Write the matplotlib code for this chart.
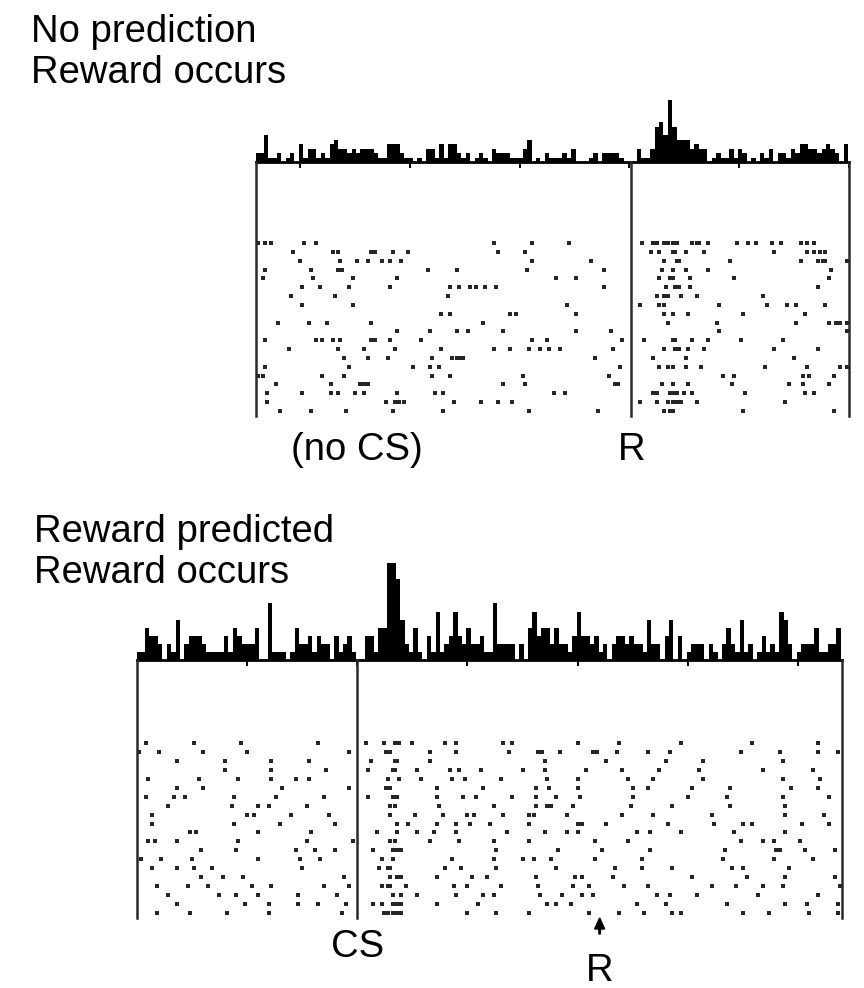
import numpy as np
import matplotlib
matplotlib.use("Agg")
import matplotlib.pyplot as plt

plt.rcParams['font.family'] = ['Liberation Sans', 'DejaVu Sans']

W, H = 864, 988

# spike times (s) per trial, aligned on reward, no conditioned stimulus
nocs_trials = [
    [-1.69, -1.66, -1.63, -1.48, -1.43, -0.62, -0.45, -0.28, 0.05, 0.10, 0.12, 0.15, 0.17, 0.19, 0.21, 0.28, 0.30, 0.31, 0.35, 0.48, 0.53, 0.57, 0.64, 0.68, 0.77, 0.80, 0.83],
    [-1.53, -1.35, -1.33, -1.18, -1.16, -1.08, -1.01, -0.60, -0.48, 0.09, 0.13, 0.19, 0.20, 0.25, 0.33, 0.65, 0.80, 0.83, 0.86, 0.88],
    [-1.50, -1.32, -1.24, -1.19, -1.13, -1.09, -1.04, -0.45, -0.18, 0.15, 0.21, 0.22, 0.45, 0.77, 0.85, 0.87, 0.88, 0.98],
    [-1.66, -1.45, -1.33, -1.31, -0.92, -0.79, -0.47, -0.12, 0.14, 0.19, 0.25, 0.35, 0.91],
    [-1.67, -1.44, -1.26, -1.06, -0.34, -0.25, 0.13, 0.18, 0.19, 0.27, 0.47, 0.90],
    [-1.49, -1.41, -1.28, -1.09, -0.82, -0.78, -0.73, -0.70, -0.66, -0.61, -0.12, 0.16, 0.20, 0.22, 0.27, 0.85],
    [-1.54, -1.34, -0.83, 0.12, 0.15, 0.17, 0.23, 0.30, 0.60],
    [-1.49, -1.26, -0.29, 0.04, 0.13, 0.15, 0.40, 0.62, 0.71, 0.75, 0.88],
    [-0.86, -0.82, -0.55, -0.52, -0.25, 0.15, 0.19, 0.26, 0.51, 0.79],
    [-1.60, -1.46, -1.38, -1.18, -0.67, 0.17, 0.39, 0.75, 0.90, 0.93, 0.95, 0.98],
    [-1.06, -0.91, -0.79, -0.74, -0.58, -0.25, -0.09, 0.40, 0.98],
    [-1.66, -1.43, -1.40, -1.35, -1.32, -1.18, -1.16, -1.09, -0.95, -0.45, -0.38, -0.04, 0.06, 0.19, 0.20, 0.28, 0.35, 0.50, 0.69],
    [-1.55, -1.33, -1.21, -1.07, -0.86, -0.62, -0.55, -0.46, -0.41, -0.37, -0.32, -0.08, 0.15, 0.20, 0.22, 0.26, 0.33, 0.65, 0.85],
    [-1.30, -1.19, -1.10, -0.90, -0.81, -0.79, -0.78, -0.76, -0.16, 0.10, 0.25, 0.74],
    [-1.66, -1.28, -0.99, -0.91, -0.87, -0.05, 0.13, 0.17, 0.19, 0.25, 0.32, 0.61, 0.80, 0.95, 0.98],
    [-1.69, -1.67, -1.40, -1.30, -0.90, -0.82, -0.49, -0.10, 0.42, 0.47, 0.78, 0.81, 0.92],
    [-1.61, -1.36, -1.23, -1.21, -1.19, -0.58, -0.48, -0.07, -0.06, 0.14, 0.19, 0.26, 0.46, 0.72, 0.78, 0.90],
    [-1.65, -1.49, -1.36, -1.33, -1.25, -1.21, -1.06, -0.89, -0.85, -0.35, -0.30, 0.10, 0.12, 0.18, 0.19, 0.21, 0.24, 0.28, 0.52, 0.79, 0.83],
    [-1.65, -1.11, -1.07, -1.05, -1.03, -0.80, -0.68, -0.60, -0.54, 0.04, 0.12, 0.17, 0.19, 0.21, 0.23, 0.30, 0.70],
    [-1.59, -1.45, -1.29, -1.08, -0.85, -0.46, -0.15, 0.15, 0.18, 0.19, 0.51, 0.92],
]

# spike times (s) per trial, aligned on CS, reward follows
cs_trials = [
    [-0.96, -0.74, -0.53, -0.18, 0.04, 0.12, 0.17, 0.19, 0.25, 0.40, 0.45, 0.66, 0.70, 1.00, 1.19, 1.47, 1.79, 2.09],
    [-0.99, -0.90, -0.70, -0.50, -0.04, 0.13, 0.15, 0.33, 0.45, 0.69, 0.82, 0.84, 0.92, 1.07, 1.09, 1.18, 1.32, 1.42, 1.74, 1.92, 2.09, 2.18],
    [-0.82, -0.60, -0.39, -0.22, 0.06, 0.17, 0.18, 0.33, 0.85, 1.13, 1.40, 1.57, 1.93],
    [-0.60, -0.39, -0.14, 0.05, 0.16, 0.17, 0.27, 0.42, 0.46, 0.56, 0.75, 0.85, 1.04, 1.20, 1.37, 1.55, 1.84, 2.07],
    [-0.95, -0.72, -0.54, -0.39, -0.28, -0.22, 0.14, 0.19, 0.29, 0.43, 0.49, 0.65, 0.86, 1.00, 1.23, 1.34, 1.57, 1.93, 2.10],
    [-0.82, -0.70, -0.34, -0.04, 0.13, 0.15, 0.36, 0.57, 0.81, 0.87, 1.00, 1.25, 1.32, 1.52, 1.69, 1.97, 2.09],
    [-0.96, -0.83, -0.78, -0.56, -0.37, -0.15, 0.05, 0.16, 0.18, 0.36, 0.48, 0.54, 0.70, 0.81, 0.90, 1.01, 1.25, 1.50, 1.68, 1.93, 2.14],
    [-0.86, -0.57, -0.45, -0.40, -0.23, 0.15, 0.17, 0.37, 0.62, 0.81, 0.86, 0.88, 0.98, 1.24, 1.43, 1.69, 1.94],
    [-0.93, -0.50, -0.47, -0.30, -0.13, 0.15, 0.26, 0.39, 0.50, 0.53, 0.66, 0.78, 0.80, 0.95, 1.20, 1.34, 1.61, 1.94, 2.12],
    [-0.93, -0.56, -0.35, -0.10, 0.18, 0.23, 0.36, 0.45, 0.51, 0.60, 0.78, 1.00, 1.02, 1.13, 1.41, 1.62, 1.75, 1.79, 2.02, 2.14],
    [-0.76, -0.73, -0.45, -0.21, 0.09, 0.18, 0.27, 0.35, 0.45, 0.68, 0.85, 0.95, 1.00, 1.27, 1.33, 1.47, 1.71, 1.94],
    [-0.95, -0.92, -0.82, -0.54, -0.23, -0.02, 0.15, 0.17, 0.33, 0.46, 0.62, 0.78, 1.08, 1.23, 1.74, 1.84, 1.89, 2.01],
    [-0.71, -0.55, -0.28, -0.19, -0.10, 0.07, 0.16, 0.18, 0.20, 0.63, 0.91, 1.11, 1.33, 1.67, 1.90, 1.92, 2.03, 2.17],
    [-0.98, -0.89, -0.75, -0.45, -0.26, -0.17, 0.11, 0.16, 0.43, 0.62, 0.75, 0.80, 0.88, 1.08, 1.29, 1.66, 1.89, 2.07],
    [-0.93, -0.82, -0.74, -0.66, -0.25, 0.10, 0.14, 0.15, 0.40, 0.47, 0.63, 0.90, 1.17, 1.29, 1.43, 1.70, 1.75, 1.96],
    [-0.71, -0.61, -0.52, -0.06, 0.15, 0.18, 0.20, 0.36, 0.52, 0.59, 0.81, 0.99, 1.02, 1.16, 1.52, 1.77, 1.94, 2.17],
    [-0.91, -0.77, -0.68, -0.48, -0.39, -0.15, -0.04, 0.11, 0.14, 0.15, 0.22, 0.44, 0.50, 0.65, 0.82, 0.98, 1.05, 1.21, 1.32, 1.61, 1.72, 1.84, 1.93, 2.19],
    [-0.86, -0.63, -0.55, -0.45, -0.27, -0.09, 0.16, 0.20, 0.27, 0.45, 0.57, 0.62, 0.83, 0.93, 1.02, 1.07, 1.36, 1.42, 1.54, 1.82, 2.09],
    [-0.82, -0.51, -0.40, -0.27, -0.18, -0.05, 0.07, 0.11, 0.16, 0.18, 0.20, 0.36, 0.55, 0.86, 0.90, 0.97, 1.27, 1.40, 1.68, 1.94, 2.04, 2.18],
    [-0.91, -0.76, -0.59, -0.40, -0.07, 0.12, 0.14, 0.16, 0.18, 0.20, 0.50, 0.63, 0.78, 1.05, 1.19, 1.30, 1.43, 1.47, 1.75, 1.87, 2.05, 2.18],
]

nocs_window = (-1.70, 0.99)
cs_window = (-1.00, 2.20)
reward_time = 1.10
bin_w = 0.02
tick_step = 0.5


def box(x0, y0, x1, y1):
    # pixel rectangle (origin top-left) -> figure fraction rect
    return [x0 / W, 1 - y1 / H, (x1 - x0) / W, (y1 - y0) / H]


def fx(x):
    return x / W


def fy(y):
    return 1 - y / H


def panel(fig, trials, window, events, x0, x1, peak_y, base_y, row0_y, rowN_y, bottom_y):
    # peri-event histogram
    axh = fig.add_axes(box(x0, peak_y, x1, base_y))
    spikes = np.concatenate([np.array(t) for t in trials])
    edges = np.arange(window[0] - 0.005, window[1] + bin_w, bin_w)
    counts, _ = np.histogram(spikes, bins=edges)
    axh.stairs(counts, edges, fill=True, color="black", lw=0)
    axh.set_xlim(window)
    axh.set_ylim(0, counts.max())
    for s in ["top", "left", "right"]:
        axh.spines[s].set_visible(False)
    axh.spines["bottom"].set_linewidth(2.0)
    ticks = np.arange(np.ceil(window[0] / tick_step + 0.01) * tick_step, window[1] + 0.02, tick_step)
    axh.set_xticks(ticks)
    axh.tick_params(axis="x", direction="out", length=4.5, width=1.4, labelbottom=False)
    axh.set_yticks([])
    axh.patch.set_alpha(0)

    # raster
    axr = fig.add_axes(box(x0, base_y, x1, bottom_y))
    n = len(trials)
    for i, t in enumerate(trials):
        axr.plot(t, np.full(len(t), i + 1), ls="none", marker="s", ms=2.6,
                 mfc="#262626", mec="#262626", mew=0)
    sp = (rowN_y - row0_y) / (n - 1)
    axr.set_ylim(n + (bottom_y - rowN_y) / sp, 1 - (row0_y - base_y) / sp)
    axr.set_xlim(window)
    for x in [window[0], window[1]] + events:
        axr.axvline(x, color="#2a2a2a", lw=1.8, clip_on=False)
    axr.axis("off")
    return axh, axr


fig = plt.figure(figsize=(W / 100, H / 100), dpi=100)

fs = 27.5
fig.text(fx(31), fy(42), "No prediction", fontsize=fs, va="baseline", ha="left")
fig.text(fx(31), fy(83), "Reward occurs", fontsize=fs, va="baseline", ha="left")
panel(fig, nocs_trials, nocs_window, [0.0], 256, 849, 100, 162, 243, 411, 416)
fig.text(fx(357), fy(460), "(no CS)", fontsize=fs, va="baseline", ha="center")
fig.text(fx(632), fy(460), "R", fontsize=fs, va="baseline", ha="center")

fig.text(fx(34), fy(542), "Reward predicted", fontsize=fs, va="baseline", ha="left")
fig.text(fx(34), fy(583), "Reward occurs", fontsize=fs, va="baseline", ha="left")
panel(fig, cs_trials, cs_window, [0.0], 137, 842, 563, 660, 743, 913, 918)
fig.text(fx(358), fy(957), "CS", fontsize=fs, va="baseline", ha="center")

# reward marker under the CS raster
rx = 137 + (reward_time - cs_window[0]) / (cs_window[1] - cs_window[0]) * (842 - 137)
fig.add_artist(matplotlib.patches.FancyArrow(
    fx(rx), fy(934), 0, (934 - 918) / H, width=1.5 / W, head_width=10 / W,
    head_length=11 / H, length_includes_head=True, color="black",
    transform=fig.transFigure))
fig.text(fx(rx), fy(981), "R", fontsize=fs, va="baseline", ha="center")

fig.savefig("out.png", dpi=100)
